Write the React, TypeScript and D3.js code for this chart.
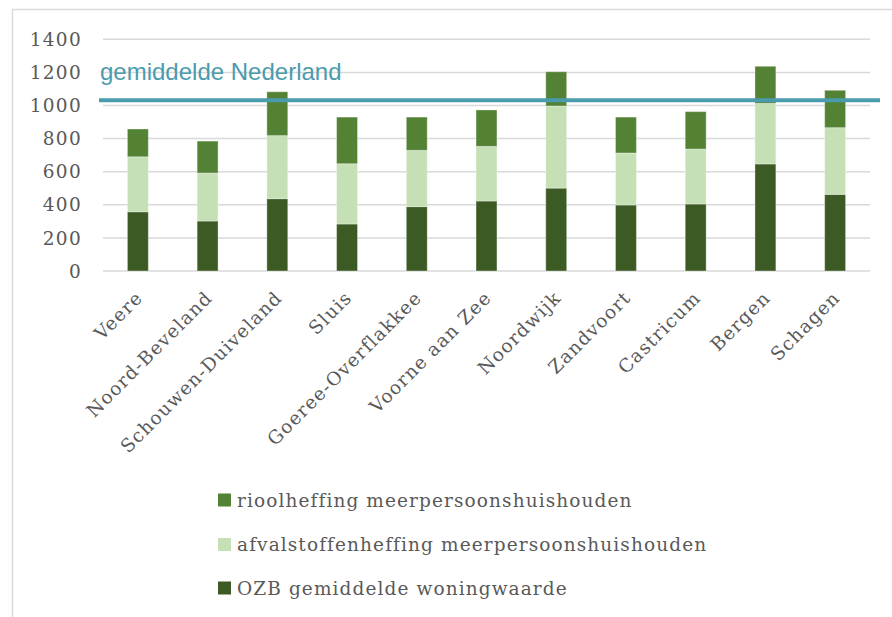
import React from "react";
import * as d3 from "d3";

const categories = ["Veere", "Noord-Beveland", "Schouwen-Duiveland", "Sluis", "Goeree-Overflakkee", "Voorne aan Zee", "Noordwijk", "Zandvoort", "Castricum", "Bergen", "Schagen"];
const ozb = [358, 302, 437, 284, 389, 423, 501, 399, 405, 647, 463];
const afval = [332, 290, 381, 364, 340, 330, 496, 314, 332, 366, 403];
const riool = [168, 193, 265, 282, 201, 220, 207, 217, 226, 224, 226];
const seriesNames = ["OZB gemiddelde woningwaarde", "afvalstoffenheffing meerpersoonshuishouden", "rioolheffing meerpersoonshuishouden"];
const seriesColors = ["#3b5a24", "#c5e0b4", "#548235"];
const yTicks = [0, 200, 400, 600, 800, 1000, 1200, 1400];
const averageNL = 1032;
const averageLabel = "gemiddelde Nederland";

const W = 892;
const H = 617;
const serif = "'DejaVu Serif', serif";

export default function App() {
  const x = d3.scaleBand<string>().domain(categories).range([103, 870]).paddingInner(0.7).paddingOuter(0.35);
  const y = d3.scaleLinear().domain([0, 1400]).range([271, 39.3]);
  const rows = categories.map((c, i) => ({ cat: c, ozb: ozb[i], afval: afval[i], riool: riool[i] }));
  const stack = d3.stack<any>().keys(["ozb", "afval", "riool"])(rows);
  const legendOrder = [2, 1, 0];
  const legendY = [500, 544.5, 588];

  return (
    <svg width={W} height={H} style={{ display: "block", position: "absolute", left: 0, top: 0 }}>
      <rect x={0} y={0} width={W} height={H} fill="#fff" />
      <path d={`M12.5,${H} V9.5 H${W}`} fill="none" stroke="#d9d9d9" strokeWidth={1.5} />
      {yTicks.map((t) => (
        <g key={t}>
          <line x1={103} x2={870} y1={y(t)} y2={y(t)} stroke="#d9d9d9" strokeWidth={1.5} />
          <text x={82} y={y(t)} dy="0.36em" textAnchor="end" fontFamily={serif} fontSize={18.5} letterSpacing={1.3} fill="#595959">{t}</text>
        </g>
      ))}
      {stack.map((s, si) => (
        <g key={si} fill={seriesColors[si]}>
          {s.map((d, i) => (
            <rect key={i} x={x(categories[i])} width={x.bandwidth()} y={y(d[1])} height={y(d[0]) - y(d[1])}
              stroke="#ffffff" strokeOpacity={0.35} strokeWidth={1} />
          ))}
        </g>
      ))}
      <line x1={99} x2={880} y1={y(averageNL)} y2={y(averageNL)} stroke="#4a9bad" strokeWidth={4} />
      <text x={100} y={80} fontFamily="'Liberation Sans', Arial, sans-serif" fontSize={24} fill="#4a9bad">{averageLabel}</text>
      {categories.map((c) => {
        const cx = (x(c) as number) + x.bandwidth() / 2;
        return (
          <text key={c} transform={`translate(${cx + 6},${299}) rotate(-45)`} textAnchor="end" fontFamily={serif} fontSize={18.5} letterSpacing={1.2} fill="#595959">{c}</text>
        );
      })}
      {legendOrder.map((si, k) => (
        <g key={si}>
          <rect x={218} y={legendY[k] - 6.5} width={13} height={13} fill={seriesColors[si]} />
          <text x={237} y={legendY[k]} dy="0.36em" fontFamily={serif} fontSize={18.5} letterSpacing={1.1} fill="#595959">{seriesNames[si]}</text>
        </g>
      ))}
    </svg>
  );
}
